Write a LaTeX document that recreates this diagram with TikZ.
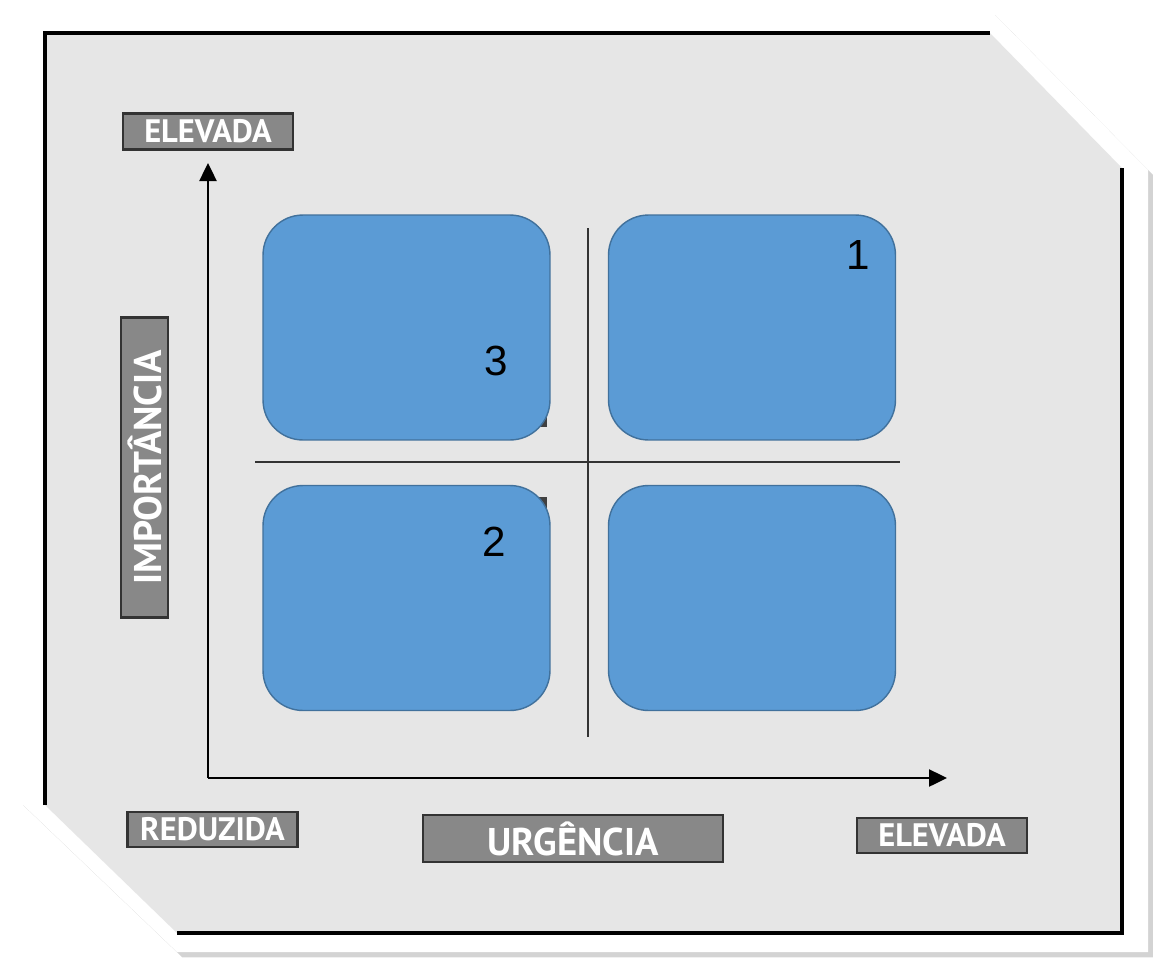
\documentclass[tikz,border=0pt]{standalone}
\usepackage{fontspec}
\setmainfont{Liberation Sans}
\newfontfamily\tagfont{PT Sans}
\usetikzlibrary{arrows.meta,shadows}
\definecolor{boxblue}{HTML}{5B9BD5}
\definecolor{boxedge}{HTML}{41719C}
\definecolor{panelgray}{HTML}{E6E6E6}
\definecolor{taggray}{HTML}{888888}

\begin{document}
\begin{tikzpicture}[x=0.02cm,y=-0.02cm,
	quadrant/.style={draw=boxedge, fill=boxblue, line width=0.8pt, rounded corners=0.8cm, inner sep=0pt, minimum width=5.74cm, minimum height=4.5cm},
	tag/.style={draw=black!80, fill=taggray, text=white, line width=1.2pt, inner sep=0pt, font=\tagfont\bfseries\fontsize{18.5}{18.5}\selectfont, minimum width=3.4cm, minimum height=0.72cm},
	bigtag/.style={tag, font=\tagfont\bfseries\fontsize{22}{22}\selectfont, minimum width=6cm, minimum height=0.94cm},
	number/.style={font=\fontsize{24}{24}\selectfont, inner sep=0pt}]
	\useasboundingbox (0,0) rectangle (1153,957);
	% draw frame
	\fill[white, drop shadow={shadow xshift=3pt, shadow yshift=-3pt, opacity=0.35}] (18,10) -- (990,10) -- (1148,170) -- (1148,952) -- (177,952) -- (18,800) -- cycle;
	\fill[panelgray] (45,33) -- (990,33) -- (1122,168) -- (1122,933) -- (177,933) -- (45,805) -- cycle;
	\draw[line width=1.8pt] (45,805) -- (45,33) -- (990,33);
	\draw[line width=1.8pt] (1122,168) -- (1122,933) -- (177,933);
	% draw axes
	\coordinate (origin) at (208,778);
	\coordinate (ytip) at (208,163);
	\coordinate (xtip) at (947,778);
	\draw[line width=1.4pt, -{Triangle[length=0.36cm, width=0.34cm]}] (origin) -- (ytip);
	\draw[line width=1.4pt, -{Triangle[length=0.36cm, width=0.34cm]}] (origin) -- (xtip);
	% draw cross
	\draw[line width=1.4pt, black!80] (255,462) -- (900,462);
	\draw[line width=1.4pt, black!80] (588,228) -- (588,737);
	% draw quadrants
	\fill[black!75] (535,414) rectangle (547,427);
	\fill[black!75] (535,497) rectangle (547,510);
	\node[quadrant] (q3) at (406.5,327.5) {};
	\node[quadrant] (q1) at (752,327.5) {};
	\node[quadrant] (q2) at (406.5,598) {};
	\node[quadrant] (q4) at (752,598) {};
	\node[number] (n1) at (858,255) {1};
	\node[number] (n3) at (496,361) {3};
	\node[number] (n2) at (494,542) {2};
	% draw labels
	\node[tag] (ytop) at (208,131.5) {ELEVADA};
	\node[tag, minimum height=0.7cm] (xlow) at (212.5,829.5) {REDUZIDA};
	\node[tag, minimum height=0.7cm] (xtop) at (942,835.5) {ELEVADA};
	\node[bigtag] (urg) at (573,838.5) {URGÊNCIA};
	\node[bigtag, rotate=90] (imp) at (144.5,467.5) {IMPORTÂNCIA};
\end{tikzpicture}
\end{document}
